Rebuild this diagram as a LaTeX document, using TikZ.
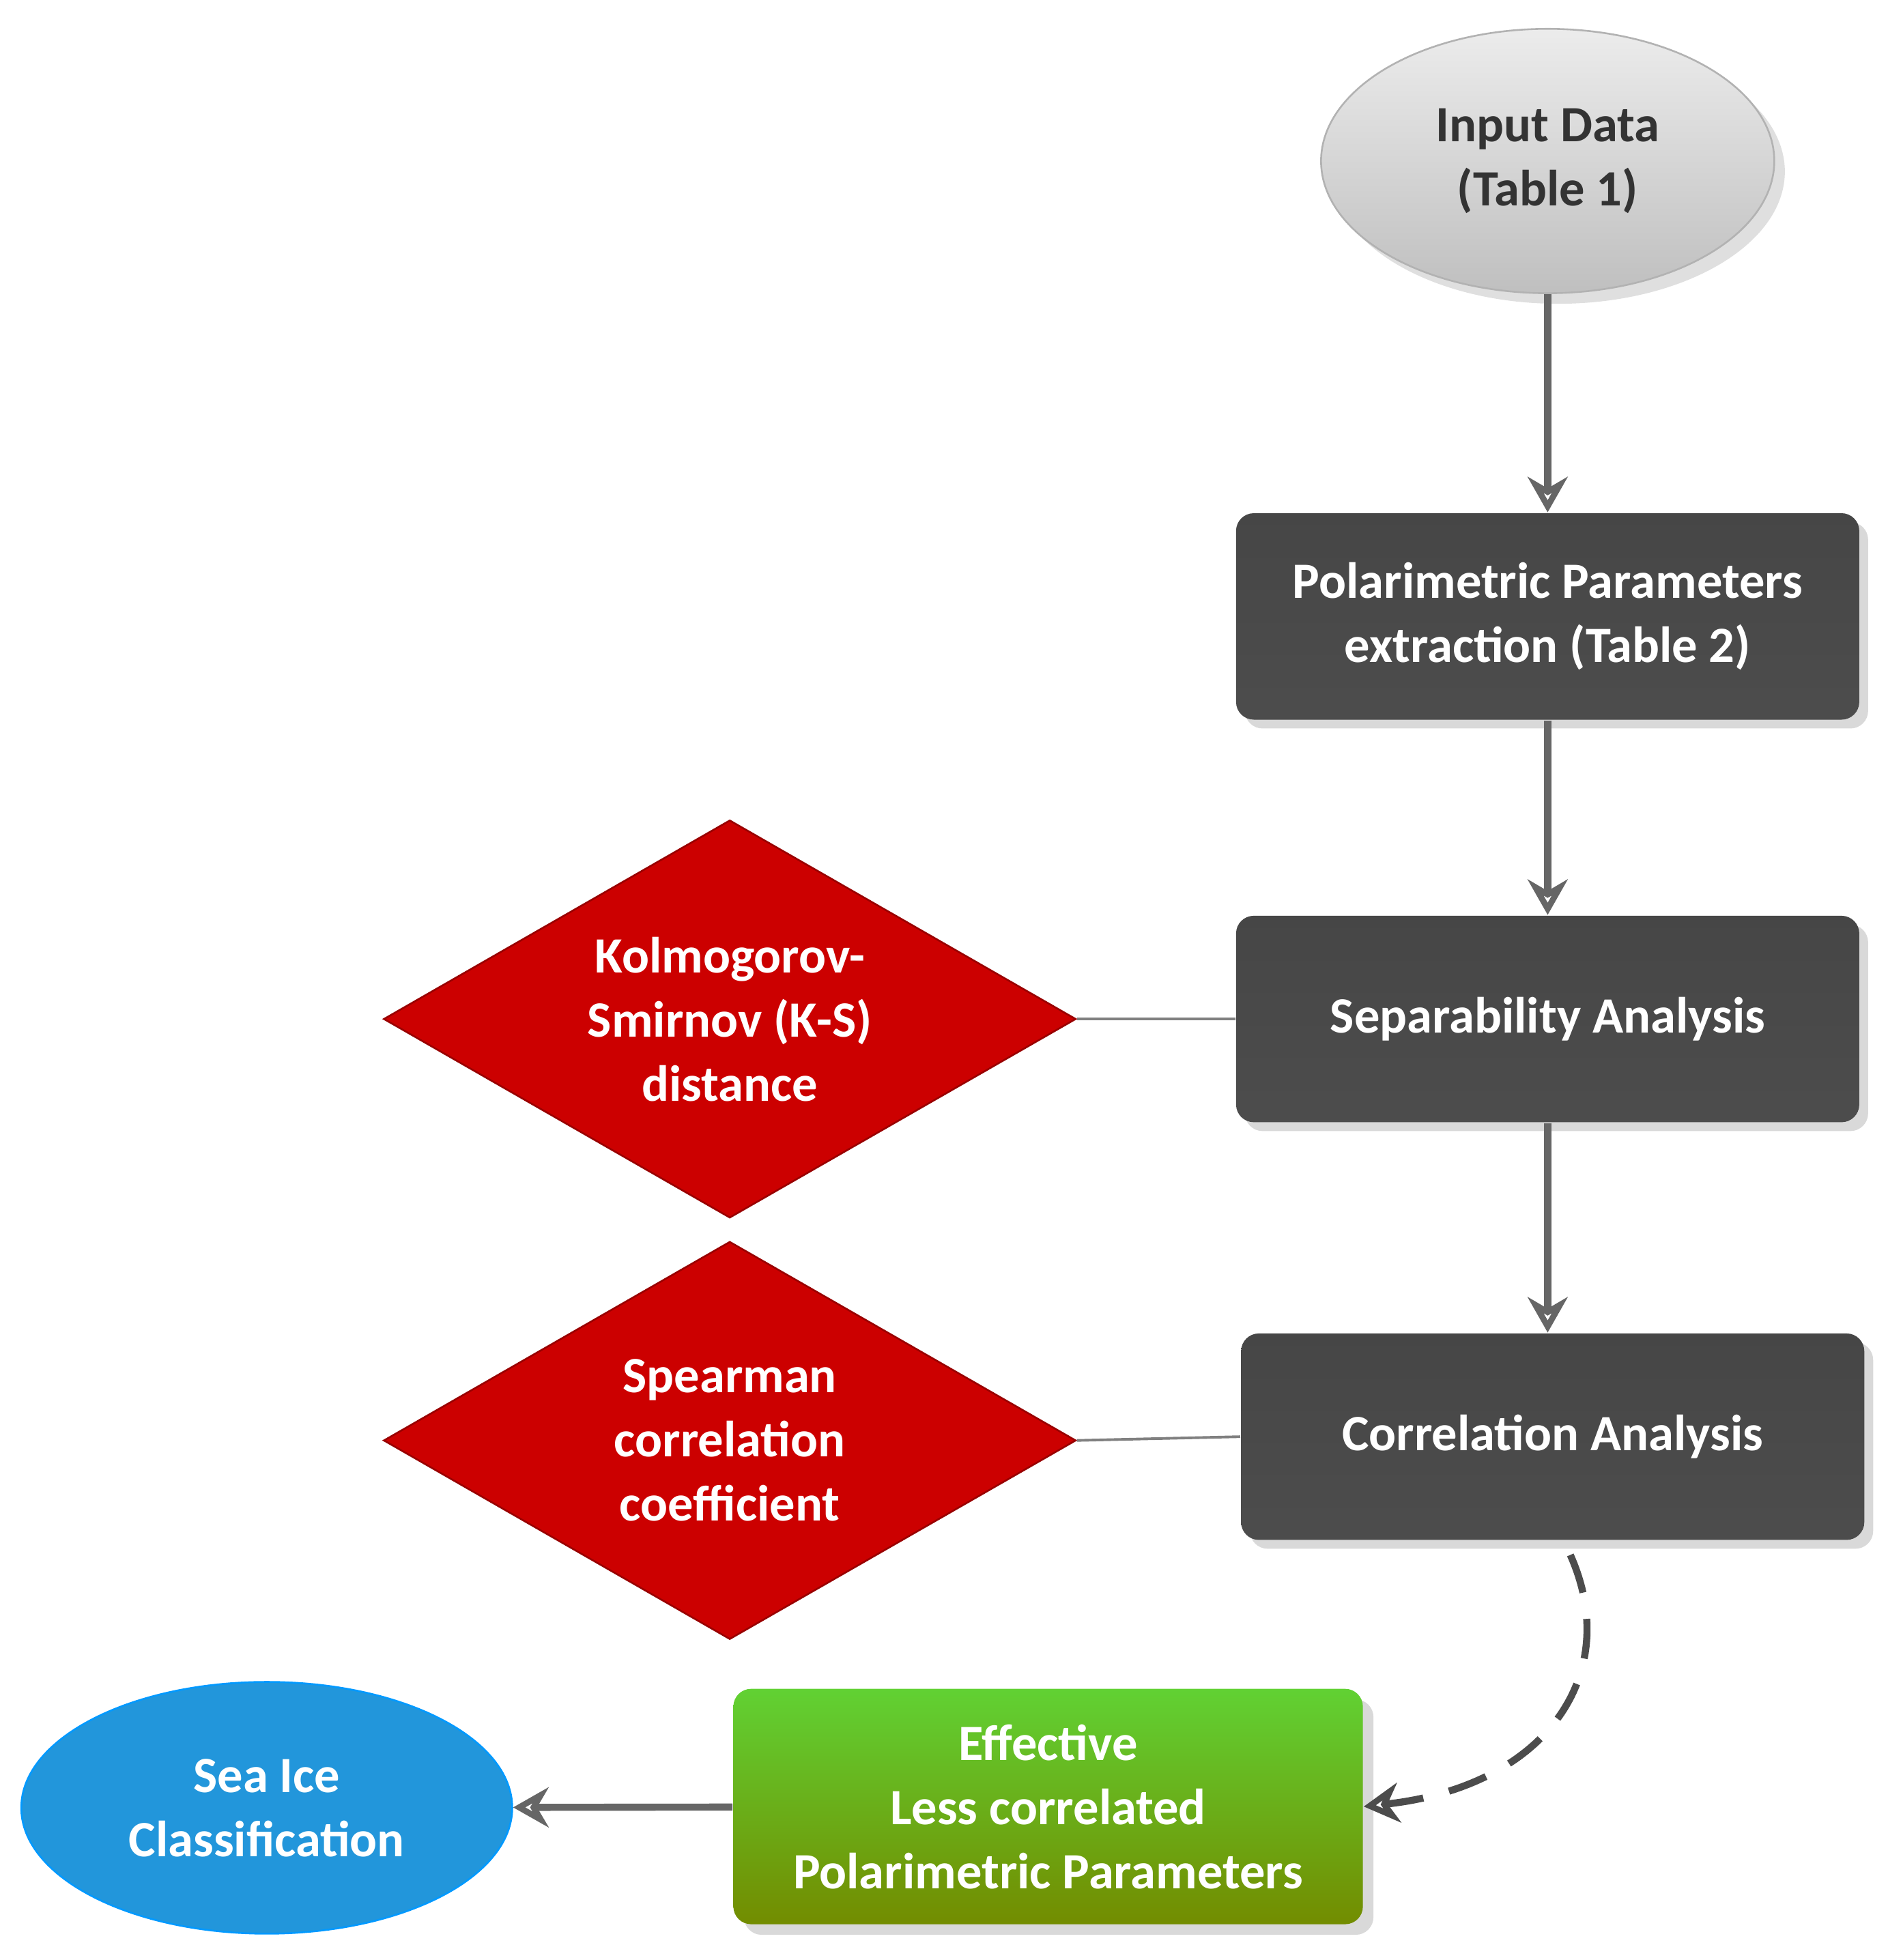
\documentclass[tikz,border=0pt]{standalone}
\usepackage{fontspec}
\setmainfont{Carlito}
\usetikzlibrary{shapes.geometric,shadows,arrows.meta}
\begin{document}
\begin{tikzpicture}[x=0.01cm,y=-0.01cm,
  txt/.style={font=\fontsize{11.5}{14.5}\selectfont\bfseries, align=center},
  gbox/.style={txt, rounded corners=4pt, top color=gray!55!black, bottom color=black!70, draw=none, text=white, minimum width=4.95cm, minimum height=1.64cm, drop shadow={shadow xshift=2pt,shadow yshift=-2pt,opacity=0.3}},
  dia/.style={txt, diamond, fill=red!80!black, text=white, minimum width=5.5cm, minimum height=3.16cm, aspect=1.74, inner sep=0pt, draw=red!60!black},
  arr/.style={draw=gray!80!black, line width=1.6pt, -{Stealth[length=8pt,width=9pt,open]}},
  ln/.style={draw=gray, line width=0.6pt}]
\useasboundingbox (0,0) rectangle (1500,1558);
\node[txt, ellipse, minimum width=3.6cm, minimum height=2.1cm, top color=gray!15, bottom color=gray!50, draw=gray!60, text=black!80, drop shadow={opacity=0.25}] (in) at (1230,128) {Input Data\\(Table 1)};
\node[gbox] (b1) at (1230,490) {Polarimetric Parameters\\extraction (Table 2)};
\node[gbox] (b2) at (1230,810) {Separability Analysis};
\node[gbox] (b3) at (1234,1142) {Correlation Analysis};
\node[dia] (d1) at (580,810) {Kolmogorov-\\Smirnov (K-S)\\distance};
\node[dia] (d2) at (580,1145) {Spearman\\correlation\\coefficient};
\node[txt, rounded corners=4pt, top color=green!55!olive!80!white, bottom color=olive!90!green, text=white, minimum width=5cm, minimum height=1.87cm, drop shadow={opacity=0.3}] (g) at (833,1436) {Effective\\Less correlated\\Polarimetric Parameters};
\node[txt, ellipse, minimum width=3.9cm, minimum height=2cm, fill=cyan!75!blue!90!white, draw=blue!40!cyan, text=white] (s) at (212,1437) {Sea Ice\\Classification};
\draw[arr] (in) -- (b1);
\draw[arr] (b1) -- (b2);
\draw[arr] (b2.south) -- (b2.south|-b3.north);
\draw[ln] (d1.east) -- (b2.west);
\draw[ln] (d2.east) -- (b3.west);
\draw[arr] (g) -- (s);
\coordinate (c0) at (1248,1236);
\draw[draw=black!70, line width=1.6pt, dash pattern=on 9pt off 6pt, -{Stealth[length=8pt,width=9pt,open]}] (c0) .. controls (1290,1330) and (1230,1420) .. (g.east);
\end{tikzpicture}
\end{document}
